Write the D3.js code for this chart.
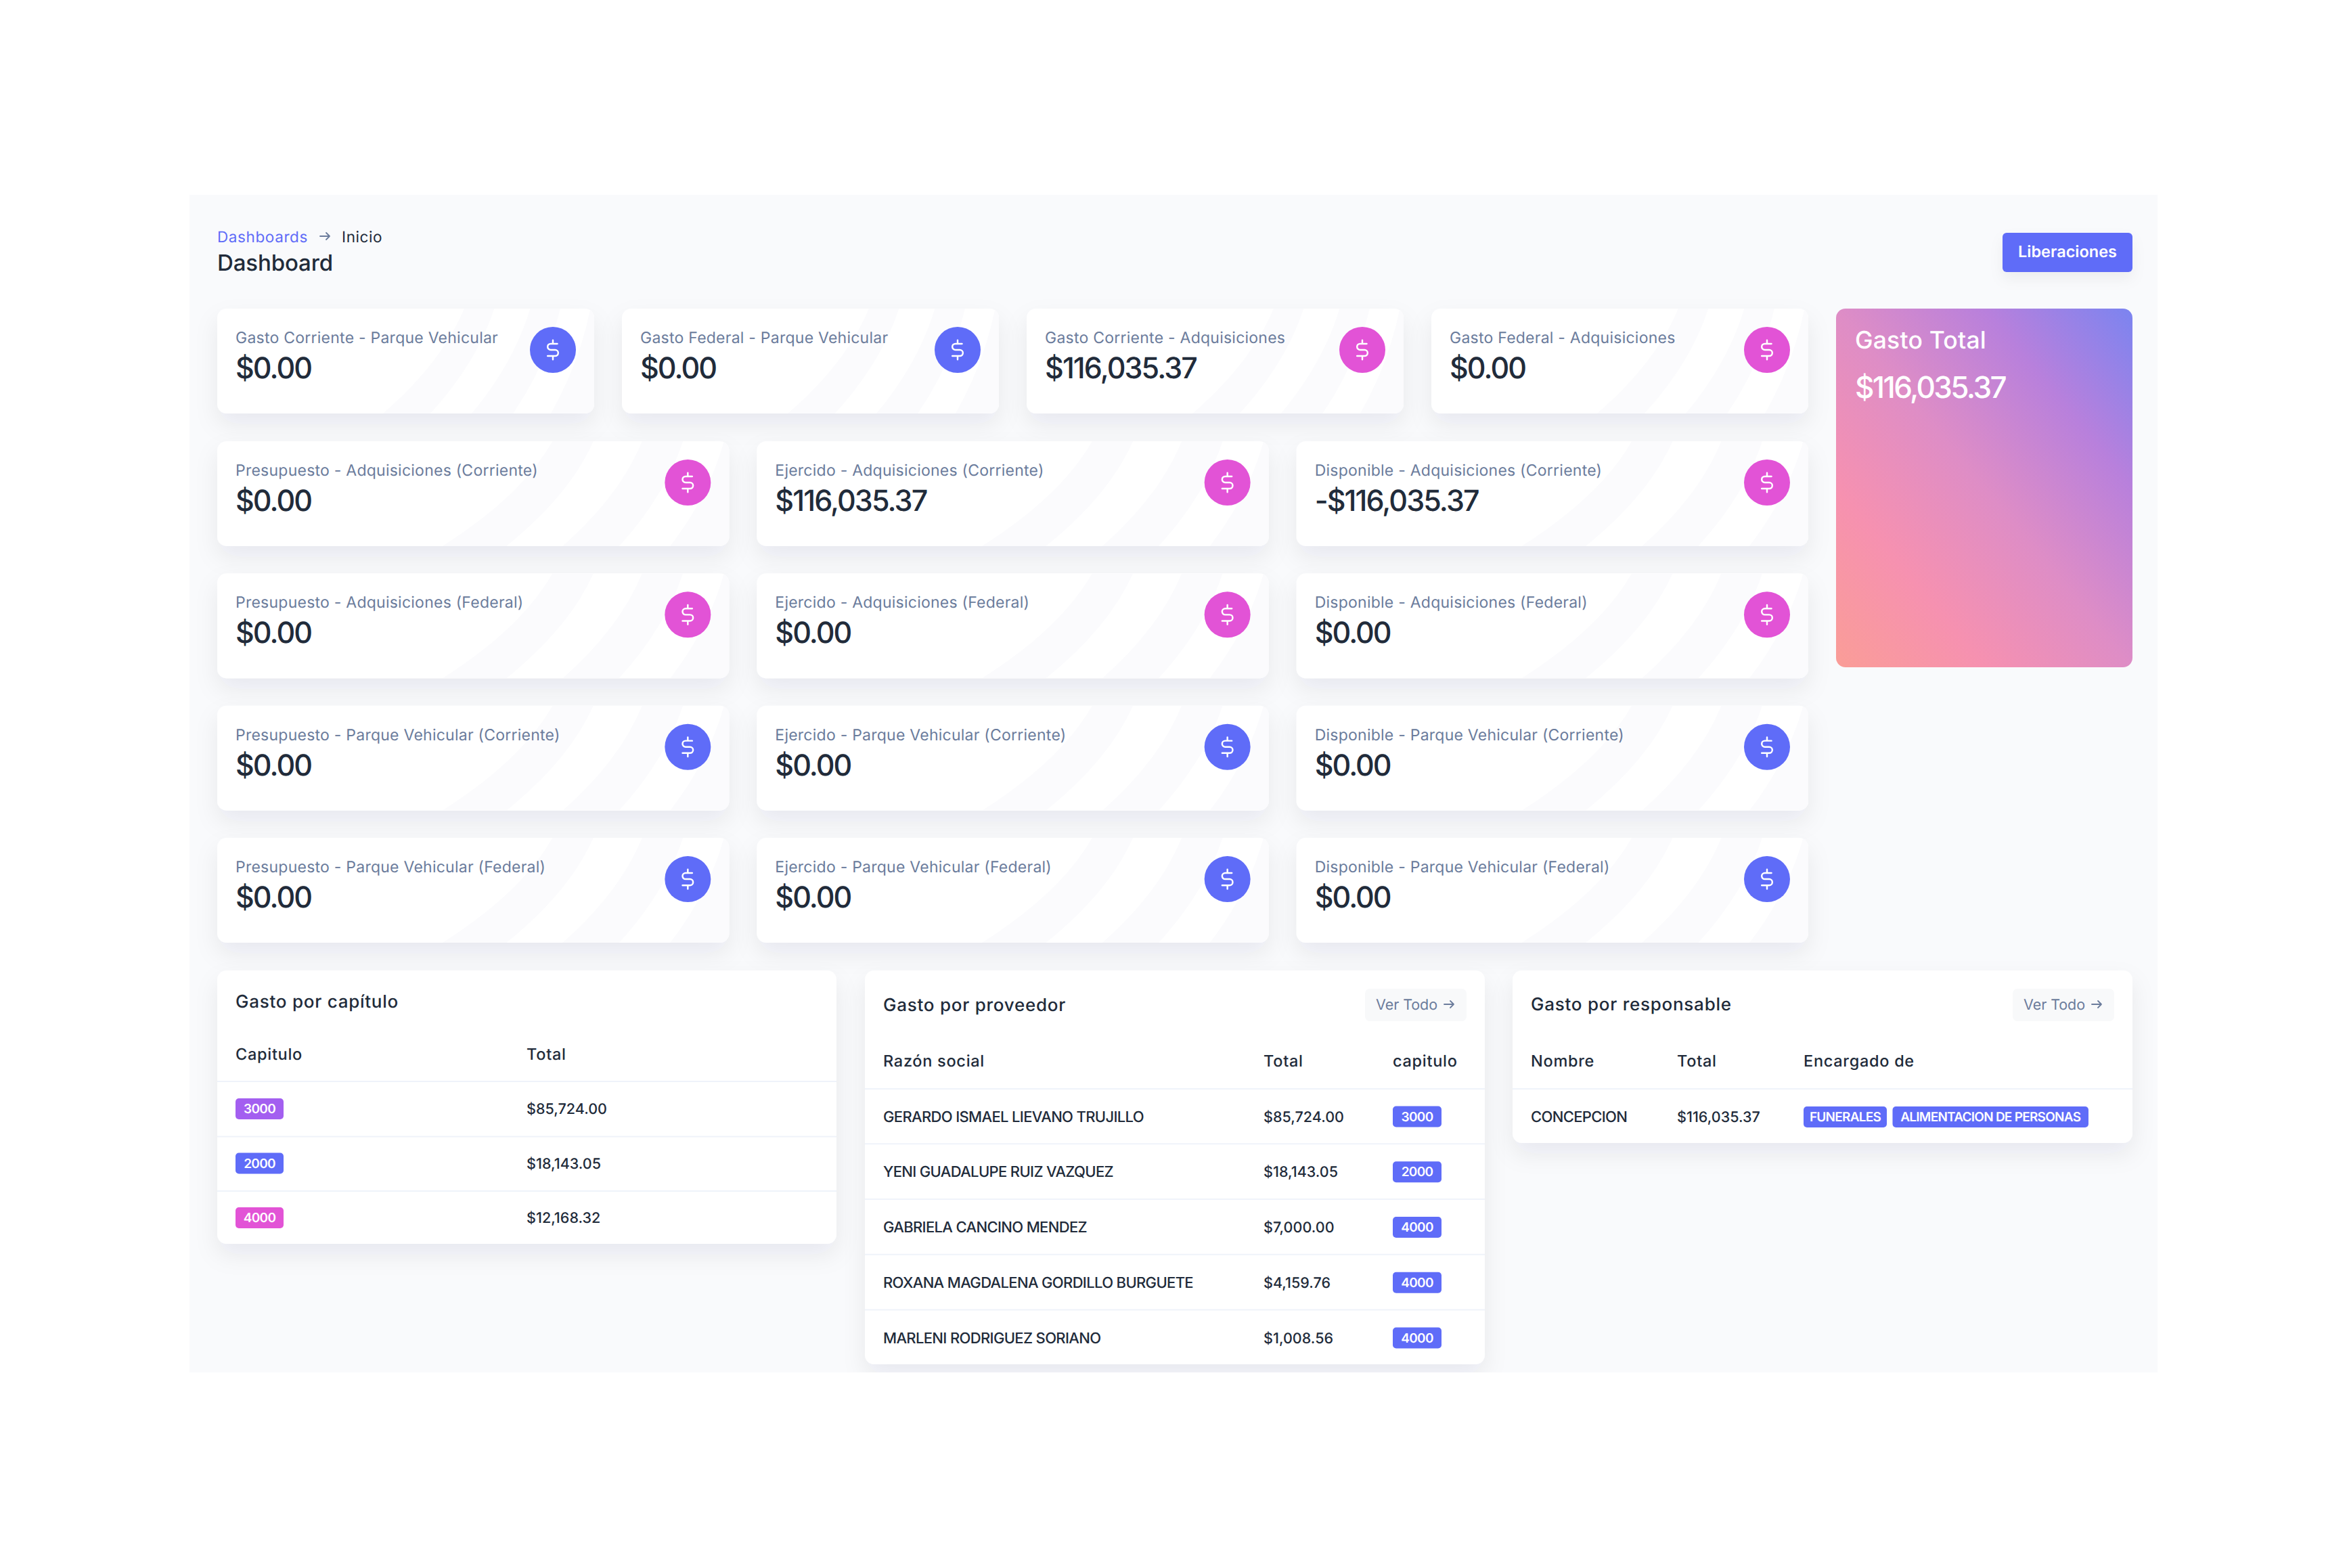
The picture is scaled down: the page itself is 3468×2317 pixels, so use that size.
<!DOCTYPE html>
<html lang="es">
<head>
<meta charset="utf-8">
<title>Dashboard</title>
<script src="https://cdn.jsdelivr.net/npm/d3@7/dist/d3.min.js"></script>
<style>
html,body{margin:0;padding:0;background:#fff;}
svg{display:block;}
text{text-rendering:geometricPrecision;font-family:Inter,"Noto Sans",sans-serif;}
</style>
</head>
<body>
<div id="chart"></div>
<script>
// ---------- data ----------
const topLabels = ["Gasto Corriente - Parque Vehicular","Gasto Federal - Parque Vehicular","Gasto Corriente - Adquisiciones","Gasto Federal - Adquisiciones"];
const topValues = ["$0.00","$0.00","$116,035.37","$0.00"];
const topTones = ["indigo","indigo","pink","pink"];

const gridLabels = [
 ["Presupuesto - Adquisiciones (Corriente)","Ejercido - Adquisiciones (Corriente)","Disponible - Adquisiciones (Corriente)"],
 ["Presupuesto - Adquisiciones (Federal)","Ejercido - Adquisiciones (Federal)","Disponible - Adquisiciones (Federal)"],
 ["Presupuesto - Parque Vehicular (Corriente)","Ejercido - Parque Vehicular (Corriente)","Disponible - Parque Vehicular (Corriente)"],
 ["Presupuesto - Parque Vehicular (Federal)","Ejercido - Parque Vehicular (Federal)","Disponible - Parque Vehicular (Federal)"]
];
const gridValues = [
 ["$0.00","$116,035.37","-$116,035.37"],
 ["$0.00","$0.00","$0.00"],
 ["$0.00","$0.00","$0.00"],
 ["$0.00","$0.00","$0.00"]
];
const gridTones = ["pink","pink","indigo","indigo"];

const totalTitle = "Gasto Total";
const totalValue = "$116,035.37";

const capituloCodes = ["3000","2000","4000"];
const capituloTotals = ["$85,724.00","$18,143.05","$12,168.32"];
const capituloTones = ["violet","indigo","pink"];

const proveedorNames = ["GERARDO ISMAEL LIEVANO TRUJILLO","YENI GUADALUPE RUIZ VAZQUEZ","GABRIELA CANCINO MENDEZ","ROXANA MAGDALENA GORDILLO BURGUETE","MARLENI RODRIGUEZ SORIANO"];
const proveedorTotals = ["$85,724.00","$18,143.05","$7,000.00","$4,159.76","$1,008.56"];
const proveedorCodes = ["3000","2000","4000","4000","4000"];

const responsableNames = ["CONCEPCION"];
const responsableTotals = ["$116,035.37"];
const responsableTags = ["FUNERALES","ALIMENTACION DE PERSONAS"];

// ---------- theme ----------
const tone = {indigo:"#5f6cf8", pink:"#e253d6", violet:"#a35ff0"};
const dark = "#212b3a", muted = "#6b7c9c";
const W = 3468, H = 2317;

const svg = d3.select("#chart").append("svg").attr("width",W).attr("height",H).attr("viewBox",`0 0 ${W} ${H}`);
const defs = svg.append("defs");

const shadow = defs.append("filter").attr("id","shadow").attr("x","-20%").attr("y","-30%").attr("width","140%").attr("height","170%");
shadow.append("feDropShadow").attr("dx",0).attr("dy",16).attr("stdDeviation",17).attr("flood-color","#1a2233").attr("flood-opacity",0.07);
const btnShadow = defs.append("filter").attr("id","btnShadow").attr("x","-20%").attr("y","-30%").attr("width","140%").attr("height","190%");
btnShadow.append("feDropShadow").attr("dx",0).attr("dy",10).attr("stdDeviation",10).attr("flood-color","#1a2233").attr("flood-opacity",0.05);

const grad = defs.append("linearGradient").attr("id","totalGrad").attr("x1",1).attr("y1",0).attr("x2",0).attr("y2",1);
[[0,"#7b84f0"],[0.25,"#b880dc"],[0.5,"#de8dc6"],[0.75,"#f691b0"],[1,"#fa9d97"]].forEach(([o,c])=>grad.append("stop").attr("offset",o).attr("stop-color",c));

defs.append("clipPath").attr("id","panelClip").append("rect").attr("x",280).attr("y",288).attr("width",2908).attr("height",1740);

// ---------- text styles, each calibrated to a reference string width ----------
const styles = {
  crumb:{size:22.5,weight:400,ref:"Dashboards",w:134},
  head:{size:33,weight:500,ref:"Dashboard",w:171},
  btn:{size:23.5,weight:600,ref:"Liberaciones",w:146},
  label:{size:23,weight:400,ref:"Gasto Corriente - Parque Vehicular",w:388},
  value:{size:43,weight:500,ref:"$116,035.37",w:224},
  zero:{size:43,weight:500,ref:"$0.00",w:112},
  totalTitle:{size:35.5,weight:500,ref:"Gasto Total",w:194},
  totalValue:{size:44,weight:500,ref:"$116,035.37",w:222},
  title:{size:26,weight:500,ref:"Gasto por capítulo",w:241},
  th:{size:23.5,weight:500,ref:"Capitulo",w:99},
  money:{size:21.5,weight:500,ref:"$85,724.00",w:119},
  name:{size:22,weight:500,ref:"GERARDO ISMAEL LIEVANO TRUJILLO",w:385},
  badge:{size:19,weight:600,ref:"3000",w:47},
  tag:{size:19,weight:600,ref:"ALIMENTACION DE PERSONAS",w:266},
  link:{size:21.5,weight:400,ref:"Ver Todo",w:91}
};
const probe = svg.append("text").attr("x",-9999).attr("y",-9999);
Object.values(styles).forEach(s=>{
  probe.attr("font-size",s.size).attr("font-weight",s.weight).attr("letter-spacing",0).text(s.ref);
  s.ls = (s.w - probe.node().getComputedTextLength())/s.ref.length;
});
probe.remove();

function put(g,str,x,y,style,fill,anchor){
  const s = styles[style];
  return g.append("text").attr("x",x).attr("y",y).attr("font-size",s.size).attr("font-weight",s.weight)
    .attr("letter-spacing",s.ls.toFixed(3)).attr("fill",fill).attr("text-anchor",anchor||"start").text(str);
}
function dollar(g,cx,cy){
  const k = 1.3;
  g.append("path").attr("transform",`translate(${cx-12*k},${cy-12*k}) scale(${k})`)
   .attr("d","M12 1v3.2M12 19.8V23M17 5H9.5a3.5 3.5 0 0 0 0 7h5a3.5 3.5 0 0 1 0 7H6")
   .attr("fill","none").attr("stroke","#fff").attr("stroke-width",1.9).attr("stroke-linecap","round").attr("stroke-linejoin","round");
}
function arrow(g,x,y,color){
  g.append("path").attr("d",`M${x} ${y}h14M${x+9} ${y-5}l5 5l-5 5`).attr("fill","none").attr("stroke",color)
   .attr("stroke-width",1.8).attr("stroke-linecap","round").attr("stroke-linejoin","round");
}

// ---------- panel ----------
svg.append("rect").attr("x",280).attr("y",288).attr("width",2908).attr("height",1740).attr("fill","#f9fafc");
const root = svg.append("g").attr("clip-path","url(#panelClip)");

// ---------- header ----------
put(root,"Dashboards",321,358,"crumb",tone.indigo);
arrow(root,473,349,muted);
put(root,"Inicio",505,358,"crumb",dark);
put(root,"Dashboard",321,400,"head",dark);
root.append("rect").attr("x",2959).attr("y",344).attr("width",192).attr("height",58).attr("rx",6).attr("fill",tone.indigo).attr("filter","url(#btnShadow)");
put(root,"Liberaciones",3055,380,"btn","#fff","middle");

// ---------- stat cards ----------
const stripeBottom = [[.44,.565],[.675,.785],[.885,1.0]];
const stripeTop = [[.655,.735],[.83,.91],[.99,1.06]];
let clipId = 0;
function statCard(x,y,w,h,label,value,t){
  const g = root.append("g");
  g.append("rect").attr("x",x).attr("y",y).attr("width",w).attr("height",h).attr("rx",14).attr("fill","#fff").attr("filter","url(#shadow)");
  const id = "cardClip"+(clipId++);
  defs.append("clipPath").attr("id",id).append("rect").attr("x",x).attr("y",y).attr("width",w).attr("height",h).attr("rx",14);
  const bands = g.append("g").attr("clip-path",`url(#${id})`);
  const b = f=>x+f*w;
  stripeBottom.forEach((sb,i)=>{
    const st = stripeTop[i];
    const path = d3.path();
    path.moveTo(b(sb[0]),y+h);
    path.quadraticCurveTo(b(sb[0]+(st[0]-sb[0])*.72),y+h*.52,b(st[0]),y);
    path.lineTo(b(st[1]),y);
    path.quadraticCurveTo(b(sb[1]+(st[1]-sb[1])*.72),y+h*.52,b(sb[1]),y+h);
    path.closePath();
    bands.append("path").attr("d",path.toString()).attr("fill","#fbfbfd");
  });
  put(g,label,x+27,y+51,"label",muted);
  put(g,value,x+27,y+103,value==="$0.00"?"zero":"value",dark);
  g.append("circle").attr("cx",x+w-61).attr("cy",y+61).attr("r",34).attr("fill",tone[t]);
  dollar(g,x+w-61,y+61);
}
const topCol = d3.scaleBand().domain(d3.range(4)).range([321,2672]).paddingInner(41/598);
topLabels.forEach((l,i)=>statCard(topCol(i),456,topCol.bandwidth(),155,l,topValues[i],topTones[i]));

const gridCol = d3.scaleBand().domain(d3.range(3)).range([321,2672]).paddingInner(41/797);
const gridRow = d3.scaleBand().domain(d3.range(4)).range([652,1393]).paddingInner(40.5/195.5);
gridLabels.forEach((row,r)=>row.forEach((l,c)=>statCard(gridCol(c),gridRow(r),gridCol.bandwidth(),gridRow.bandwidth(),l,gridValues[r][c],gridTones[r])));

// ---------- total card ----------
root.append("rect").attr("x",2713).attr("y",456).attr("width",438).attr("height",530).attr("rx",14).attr("fill","url(#totalGrad)");
put(root,totalTitle,2741,514.5,"totalTitle","#fff");
put(root,totalValue,2741,588,"totalValue","#fff");

// ---------- tables ----------
function panel(x,y,w,h){
  root.append("rect").attr("x",x).attr("y",y).attr("width",w).attr("height",h).attr("rx",14).attr("fill","#fff").attr("filter","url(#shadow)");
}
function rule(x,w,y){ root.append("rect").attr("x",x).attr("y",y-1).attr("width",w).attr("height",2).attr("fill","#eff3fa"); }
function badge(x,y,w,str,fill,style){
  root.append("rect").attr("x",x).attr("y",y).attr("width",w).attr("height",31).attr("rx",5).attr("fill",fill);
  put(root,str,x+w/2,y+22,style,"#fff","middle");
}
function verTodo(x){
  root.append("rect").attr("x",x).attr("y",1461).attr("width",150).attr("height",48).attr("rx",7).attr("fill","#f8f9fa");
  put(root,"Ver Todo",x+16,1492,"link",muted);
  arrow(root,x+117,1484,muted);
}

// capitulo
panel(321,1434,915,404);
put(root,"Gasto por capítulo",348,1488.5,"title",dark);
put(root,"Capitulo",348,1566,"th",dark);
put(root,"Total",778,1566,"th",dark);
rule(321,915,1598);
const capRow = d3.scalePoint().domain(d3.range(3)).range([1646,1807]);
capituloCodes.forEach((c,i)=>{
  if(i>0) rule(321,915,capRow(i)-47);
  badge(348,capRow(i)-23,71,c,tone[capituloTones[i]],"badge");
  put(root,capituloTotals[i],778,capRow(i),"money",dark);
});

// proveedor
panel(1278,1434,916,582);
put(root,"Gasto por proveedor",1305,1494,"title",dark);
verTodo(2017);
put(root,"Razón social",1305,1576,"th",dark);
put(root,"Total",1867,1576,"th",dark);
put(root,"capitulo",2058,1576,"th",dark);
rule(1278,916,1609);
const provRow = d3.scalePoint().domain(d3.range(5)).range([1657.5,1984.5]);
proveedorNames.forEach((n,i)=>{
  if(i>0) rule(1278,916,provRow(i)-49);
  put(root,n,1305,provRow(i),"name",dark);
  put(root,proveedorTotals[i],1867,provRow(i),"money",dark);
  badge(2058,provRow(i)-23,72,proveedorCodes[i],tone.indigo,"badge");
});

// responsable
panel(2235,1434,916,255);
put(root,"Gasto por responsable",2262,1493,"title",dark);
verTodo(2974);
put(root,"Nombre",2262,1576,"th",dark);
put(root,"Total",2478,1576,"th",dark);
put(root,"Encargado de",2665,1576,"th",dark);
rule(2235,916,1609);
put(root,responsableNames[0],2262,1657.5,"name",dark);
put(root,responsableTotals[0],2478,1657.5,"money",dark);
badge(2665,1635,123,responsableTags[0],tone.indigo,"tag");
badge(2796.5,1635,289.5,responsableTags[1],tone.indigo,"tag");
</script>
</body>
</html>
